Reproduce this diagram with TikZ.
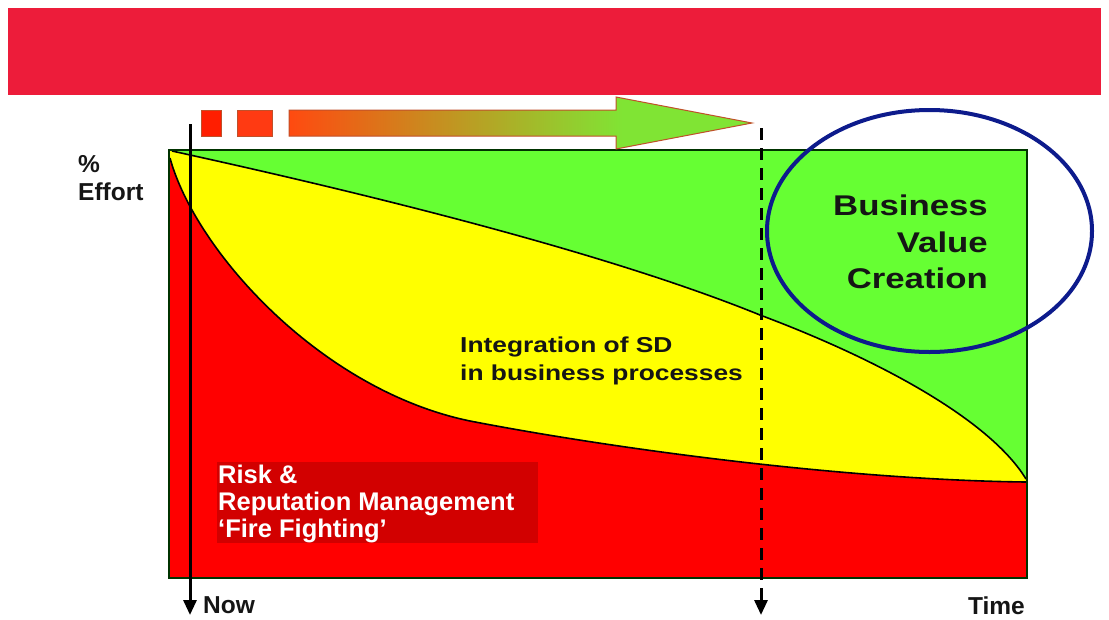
\documentclass[tikz,border=0pt]{standalone}
\usepackage{fontspec}
\setmainfont{Liberation Sans}
\newfontfamily\widefont[FakeStretch=1.22]{Liberation Sans}
\usetikzlibrary{arrows.meta}
\definecolor{banner}{HTML}{ED1C3A}
\definecolor{chartgreen}{HTML}{66FF33}
\definecolor{chartyellow}{HTML}{FFFF00}
\definecolor{chartred}{HTML}{FF0000}
\definecolor{boxred}{HTML}{D20000}
\definecolor{navy}{HTML}{0D1B8C}
\definecolor{txtdark}{HTML}{151515}
\definecolor{arrL}{HTML}{FF4A10}
\definecolor{arrR}{HTML}{80E434}
\definecolor{arrline}{HTML}{C0502A}
\definecolor{sqA}{HTML}{FF1E00}
\definecolor{sqB}{HTML}{FF3A12}
\pgfdeclarehorizontalshading{arrowsh}{100bp}{color(0bp)=(arrL); color(25bp)=(arrL); color(61bp)=(arrR); color(100bp)=(arrR)}
\tikzset{
  lbl/.style={inner sep=0pt, text=txtdark, font=\bfseries\fontsize{24.5}{28}\selectfont},
  redlbl/.style={inner sep=0pt, text=white, font=\bfseries\fontsize{25.5}{28}\selectfont, anchor=base west},
  biglbl/.style={inner sep=0pt, text=txtdark, font=\widefont\bfseries\fontsize{28.5}{34}\selectfont, anchor=base east},
  midlbl/.style={inner sep=0pt, text=txtdark, font=\widefont\bfseries\fontsize{21.6}{26}\selectfont, anchor=base west},
  curve/.style={draw=black, line width=1.6pt},
  frame/.style={draw=black!80!green, line width=1.5pt},
  timeline/.style={line width=3pt, -{Triangle[length=15pt,width=13pt]}},
}
\begin{document}
\begin{tikzpicture}[x=1pt,y=-1pt]
\useasboundingbox (0,0) rectangle (1109,619);
% banner
\fill[banner] (8,8) rectangle (1101,95);
% chart areas
\fill[chartgreen] (169,150) rectangle (1027,578);
\fill[chartyellow] (172,151) .. controls (350,190) and (600,250) .. (760,315)
  .. controls (880,360) and (990,420) .. (1026,479) -- (1027,578) -- (169,578) -- (169,151) -- cycle;
\fill[chartred] (170,158) .. controls (195,250) and (320,390) .. (470,421)
  .. controls (620,450) and (850,480) .. (1026,482) -- (1027,578) -- (169,578) -- (169,158) -- cycle;
\draw[curve] (172,151) .. controls (350,190) and (600,250) .. (760,315)
  .. controls (880,360) and (990,420) .. (1026,479);
\draw[curve] (170,158) .. controls (195,250) and (320,390) .. (470,421)
  .. controls (620,450) and (850,480) .. (1026,482);
\draw[frame] (169,150) rectangle (1027,578);
% dark red label box
\fill[boxred] (217,462) rectangle (538,543);
\node[redlbl] (risk) at (218,483) {Risk \&};
\node[redlbl] (rep) at (218,510) {Reputation Management};
\node[redlbl] (fire) at (218,537) {`Fire Fighting'};
% integration label
\node[midlbl] (int1) at (460,352) {Integration of SD};
\node[midlbl] (int2) at (460,380) {in business processes};
% progress arrow
\fill[sqA, draw=arrline, line width=0.6pt] (201,110) rectangle (221,136);
\fill[sqB, draw=arrline, line width=0.6pt] (237,110) rectangle (272,136);
\shade[shading=arrowsh, draw=arrline, line width=1pt] (289,110) -- (616,110) -- (616,97) -- (752,123)
  -- (616,149) -- (616,136) -- (289,136) -- cycle;
% time markers
\coordinate (nowtop) at (190,124);
\coordinate (nowbot) at (190,615);
\coordinate (futtop) at (761,128);
\coordinate (futbot) at (761,615);
\draw[timeline] (nowtop) -- (nowbot);
\draw[timeline, dash pattern=on 12pt off 8pt] (futtop) -- (futbot);
% ellipse and value text
\draw[navy, line width=4pt] (929.5,231) ellipse [x radius=162.5pt, y radius=121pt];
\node[biglbl] (bus) at (988,215) {Business};
\node[biglbl] (val) at (988,252) {Value};
\node[biglbl] (cre) at (988,288) {Creation};
% axis labels
\node[lbl, anchor=base west] (pct) at (78,172) {\%};
\node[lbl, anchor=base west] (eff) at (78,200) {Effort};
\node[lbl, anchor=base west] (now) at (203,613) {Now};
\node[lbl, anchor=base east] (time) at (1025,614) {Time};
\end{tikzpicture}
\end{document}
